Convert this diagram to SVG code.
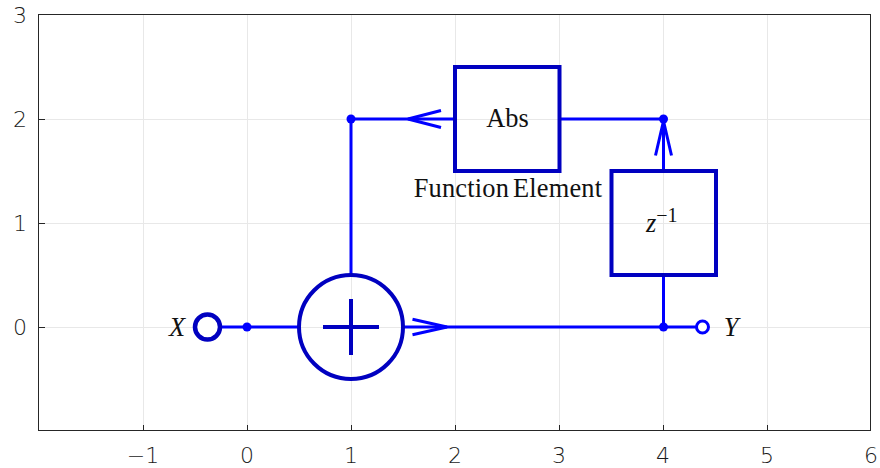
<svg xmlns="http://www.w3.org/2000/svg" width="880" height="468" viewBox="0 0 880 468">
<style>
.grid{stroke:#e8e8e8;stroke-width:1;fill:none}
.axis{stroke:#262626;stroke-width:1;fill:none}
.tick{font-family:"DejaVu Sans",sans-serif;font-size:22px;font-weight:200;fill:#1a1a1a}
.wire{stroke:#0000ff;stroke-width:3;fill:none}
.arrow{stroke:#0000ff;stroke-width:3;fill:none}
.dot{fill:#0000ff;stroke:none}
.block{stroke:#0000c0;stroke-width:4;fill:none}
.serif{font-family:"Liberation Serif",serif;font-size:26.400px;fill:#111}
.ital{font-style:italic}
</style>
<rect width="880" height="468" fill="#fff"/>
<g id="axes">
<path class="grid" d="M143.500 15V431M247.500 15V431M351.500 15V431M455.500 15V431M559.500 15V431M663.500 15V431M767.500 15V431M39 119.500H871M39 223.500H871M39 327.500H871"/>
<rect class="axis" x="38.500" y="14.500" width="832" height="416"/>
<path class="axis" d="M143.500 431v-6M247.500 431v-6M351.500 431v-6M455.500 431v-6M559.500 431v-6M663.500 431v-6M767.500 431v-6M39 119.500h6M39 223.500h6M39 327.500h6"/>
<g class="tick" text-anchor="middle">
<text x="143" y="463">−1</text><text x="247" y="463">0</text><text x="351" y="463">1</text><text x="455" y="463">2</text><text x="559" y="463">3</text><text x="663" y="463">4</text><text x="767" y="463">5</text><text x="871" y="463">6</text>
</g>
<g class="tick" text-anchor="end">
<text x="27" y="23">3</text><text x="27" y="127">2</text><text x="27" y="231">1</text><text x="27" y="335">0</text>
</g>
</g>
<g id="connectors">
<path class="wire" d="M221 327H299M403 327H697M351 275V119H455M560 119H663.500V171M663.500 275V327"/>
<path class="arrow" d="M412.500 319.300L447 327L412.500 334.700M441 110.500L408 119L441 127.500M655.500 155.500L663.500 121L671.500 155.500"/>
</g>
<g id="input-X">
<circle cx="207.500" cy="327" r="12.500" fill="#fff" stroke="#0000c0" stroke-width="4.500"/>
<text class="serif ital" x="177" y="336" text-anchor="middle">X</text>
</g>
<g id="junction-0"><circle class="dot" cx="247" cy="327" r="4.500"/></g>
<g id="sum">
<circle class="block" cx="351" cy="327" r="52"/>
<path d="M323 327H379M351 299V355" stroke="#0000c0" stroke-width="4" fill="none"/>
</g>
<g id="junction-1"><circle class="dot" cx="351" cy="119" r="4.500"/></g>
<g id="abs">
<rect class="block" x="455" y="67" width="104.500" height="104"/>
<text class="serif" x="507.500" y="127" text-anchor="middle">Abs</text>
<text class="serif" x="508" y="197" text-anchor="middle" letter-spacing="0.200" word-spacing="-3">Function Element</text>
</g>
<g id="junction-2"><circle class="dot" cx="663.500" cy="119" r="4.500"/></g>
<g id="delay">
<rect class="block" x="611.500" y="171" width="104.500" height="104"/>
<text class="serif" x="646" y="232"><tspan class="ital">z</tspan><tspan font-size="20" dy="-10">−1</tspan></text>
</g>
<g id="junction-3"><circle class="dot" cx="663.500" cy="327" r="4.500"/></g>
<g id="output-Y">
<circle cx="702.500" cy="327" r="6" fill="#fff" stroke="#0000ff" stroke-width="3"/>
<text class="serif ital" x="731" y="336" text-anchor="middle">Y</text>
</g>
</svg>
